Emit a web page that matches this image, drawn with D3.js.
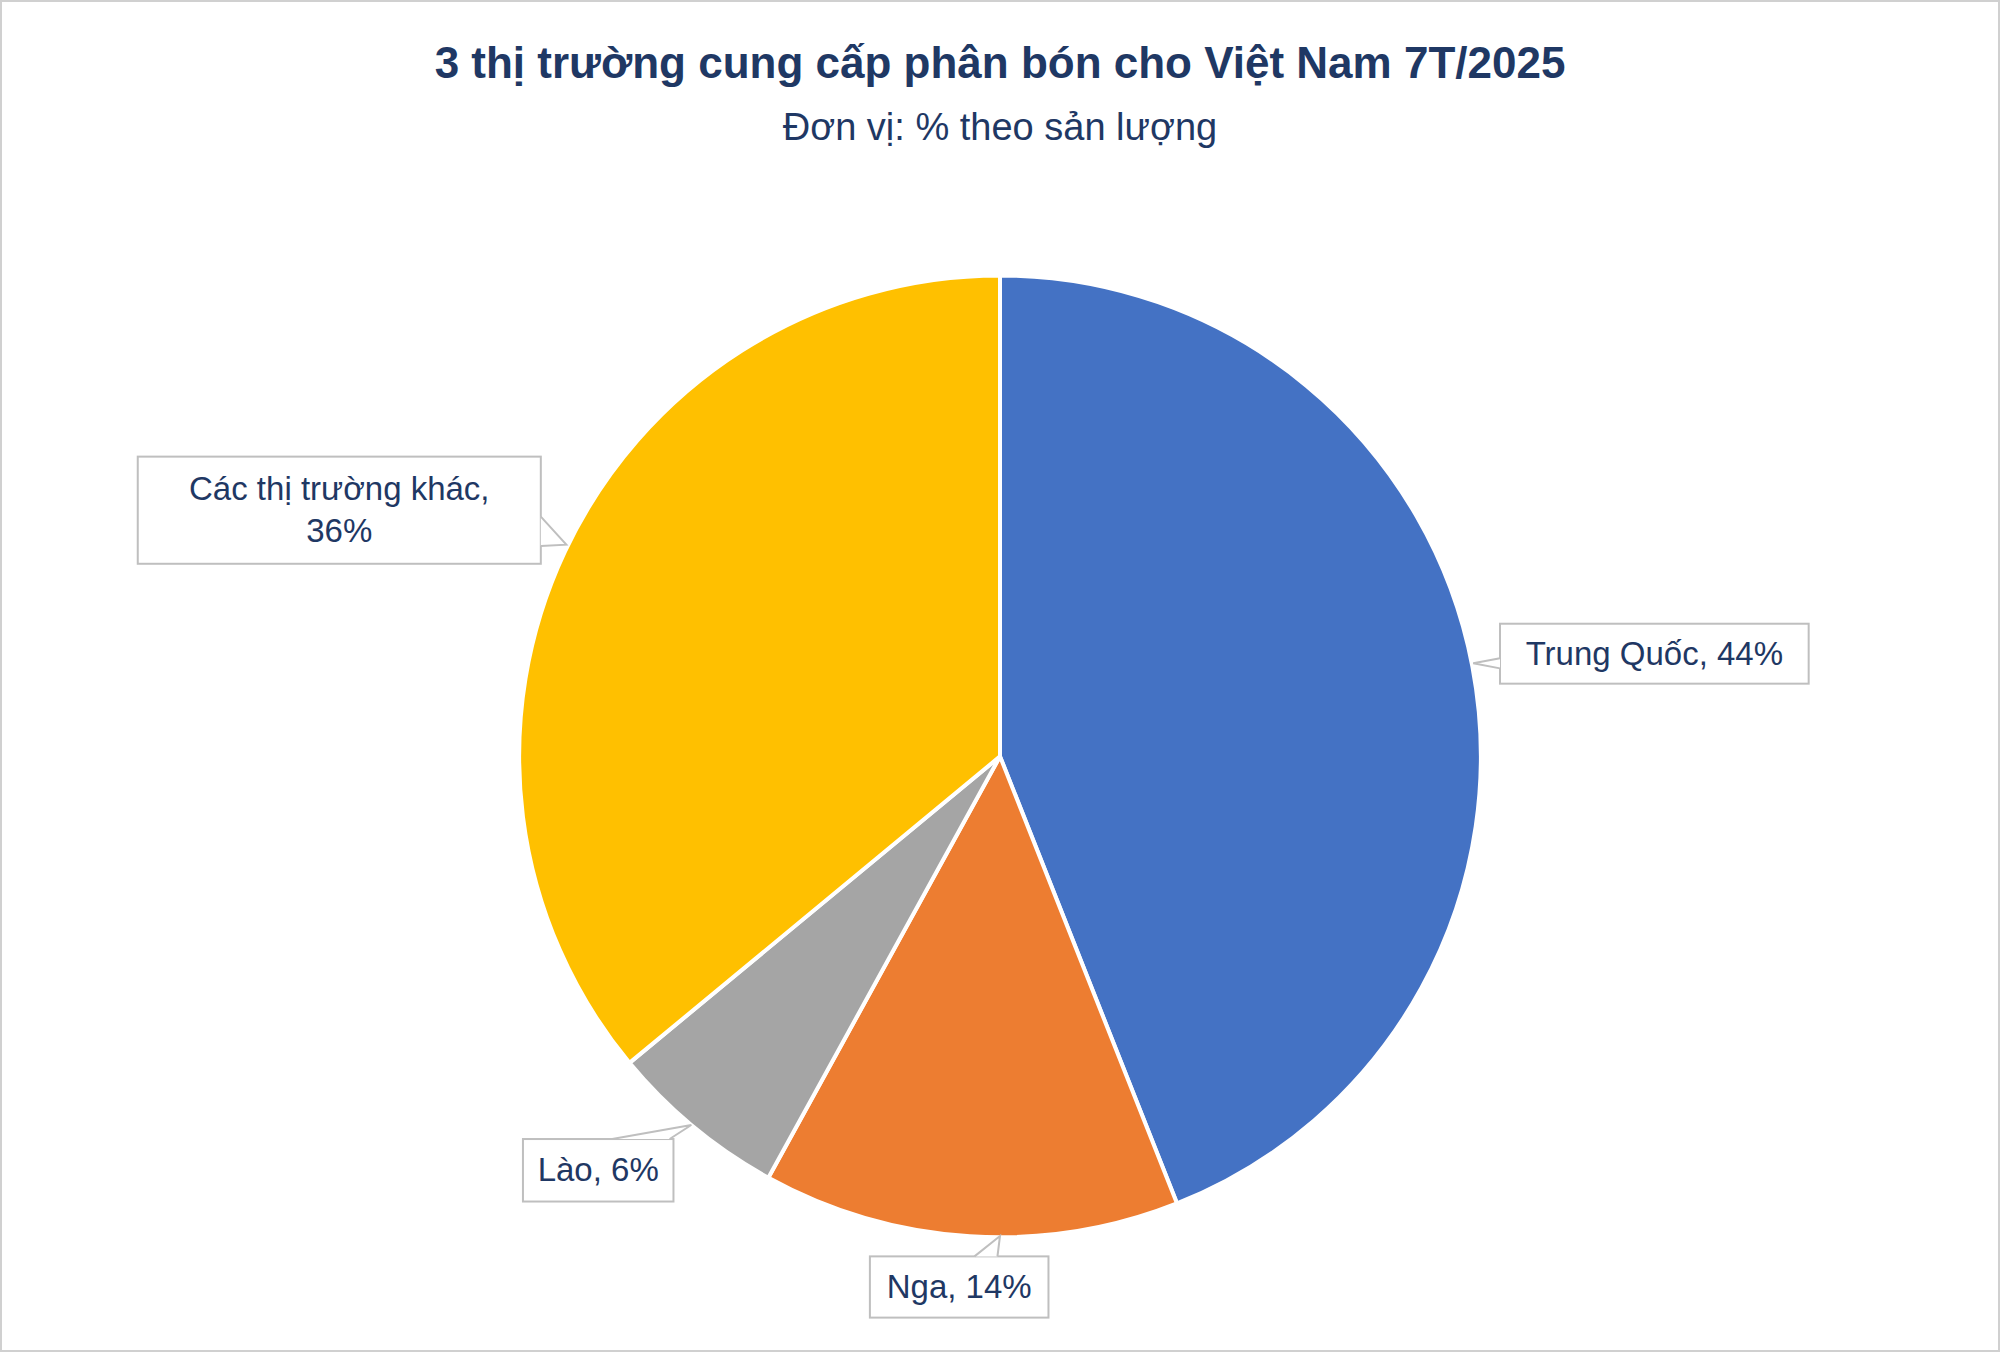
<!DOCTYPE html>
<html><head><meta charset="utf-8">
<script src="https://cdn.jsdelivr.net/npm/d3@7"></script>
<style>body{margin:0;background:#fff}</style></head>
<body><svg id="c" width="2000" height="1352"></svg>
<script>
const categories = ["Trung Quốc","Nga","Lào","Các thị trường khác"];
const values = [44,14,6,36];
const colors = ["#4472C4","#ED7D31","#A5A5A5","#FFC000"];
const svg = d3.select("#c");
const S = 2000/1568;
svg.append("rect").attr("x",1).attr("y",1).attr("width",1998).attr("height",1350).attr("fill","#fff").attr("stroke","#d0d0d0").attr("stroke-width",2);
svg.append("text").attr("x",1000).attr("y",78).attr("text-anchor","middle").attr("font-family","Liberation Sans, Arial").attr("font-weight","bold").attr("font-size",44).attr("fill","#1F3864").text("3 thị trường cung cấp phân bón cho Việt Nam 7T/2025");
svg.append("text").attr("x",1000).attr("y",140).attr("text-anchor","middle").attr("font-family","Liberation Sans, Arial").attr("font-size",38).attr("fill","#1F3864").text("Đơn vị: % theo sản lượng");
const cx=784*S, cy=593*S, r=377*S;
const pie=d3.pie().sort(null).value(d=>d)(values);
const arc=d3.arc().innerRadius(0).outerRadius(r);
const g=svg.append("g").attr("transform",`translate(${cx},${cy})`);
g.selectAll("path").data(pie).join("path").attr("d",arc).attr("fill",(d,i)=>colors[i]).attr("stroke","#fff").attr("stroke-width",4);
// label boxes (displayed coords scaled), with pointer targets
const boxes=[
 {x:1176,y:489,w:242,h:47,lines:["Trung Quốc, 44%"],p:[[1176,516],[1155,520],[1176,524]]},
 {x:682,y:985,w:140,h:48,lines:["Nga, 14%"],p:[[764,985],[784,969],[782,985]]},
 {x:410,y:893,w:118,h:49,lines:["Lào, 6%"],p:[[480,893],[542,882],[525,893]]},
 {x:108,y:358,w:316,h:84,lines:["Các thị trường khác,","36%"],p:[[424,405],[444,427],[424,428]]}
];
const lb=svg.append("g");
boxes.forEach(b=>{
  lb.append("rect").attr("x",b.x*S).attr("y",b.y*S).attr("width",b.w*S).attr("height",b.h*S).attr("fill","#fff").attr("stroke","#BFBFBF").attr("stroke-width",2);
  lb.append("polyline").attr("points",b.p.map(q=>[q[0]*S,q[1]*S].join(",")).join(" ")).attr("fill","#fff").attr("stroke","#BFBFBF").attr("stroke-width",2);
  const n=b.lines.length;
  b.lines.forEach((t,i)=>{
    lb.append("text").attr("x",(b.x+b.w/2)*S).attr("y",(b.y+b.h/2)*S+(i-(n-1)/2)*42+11).attr("text-anchor","middle").attr("font-family","Liberation Sans, Arial").attr("font-size",33).attr("fill","#1F3864").text(t);
  });
});
</script></body></html>
